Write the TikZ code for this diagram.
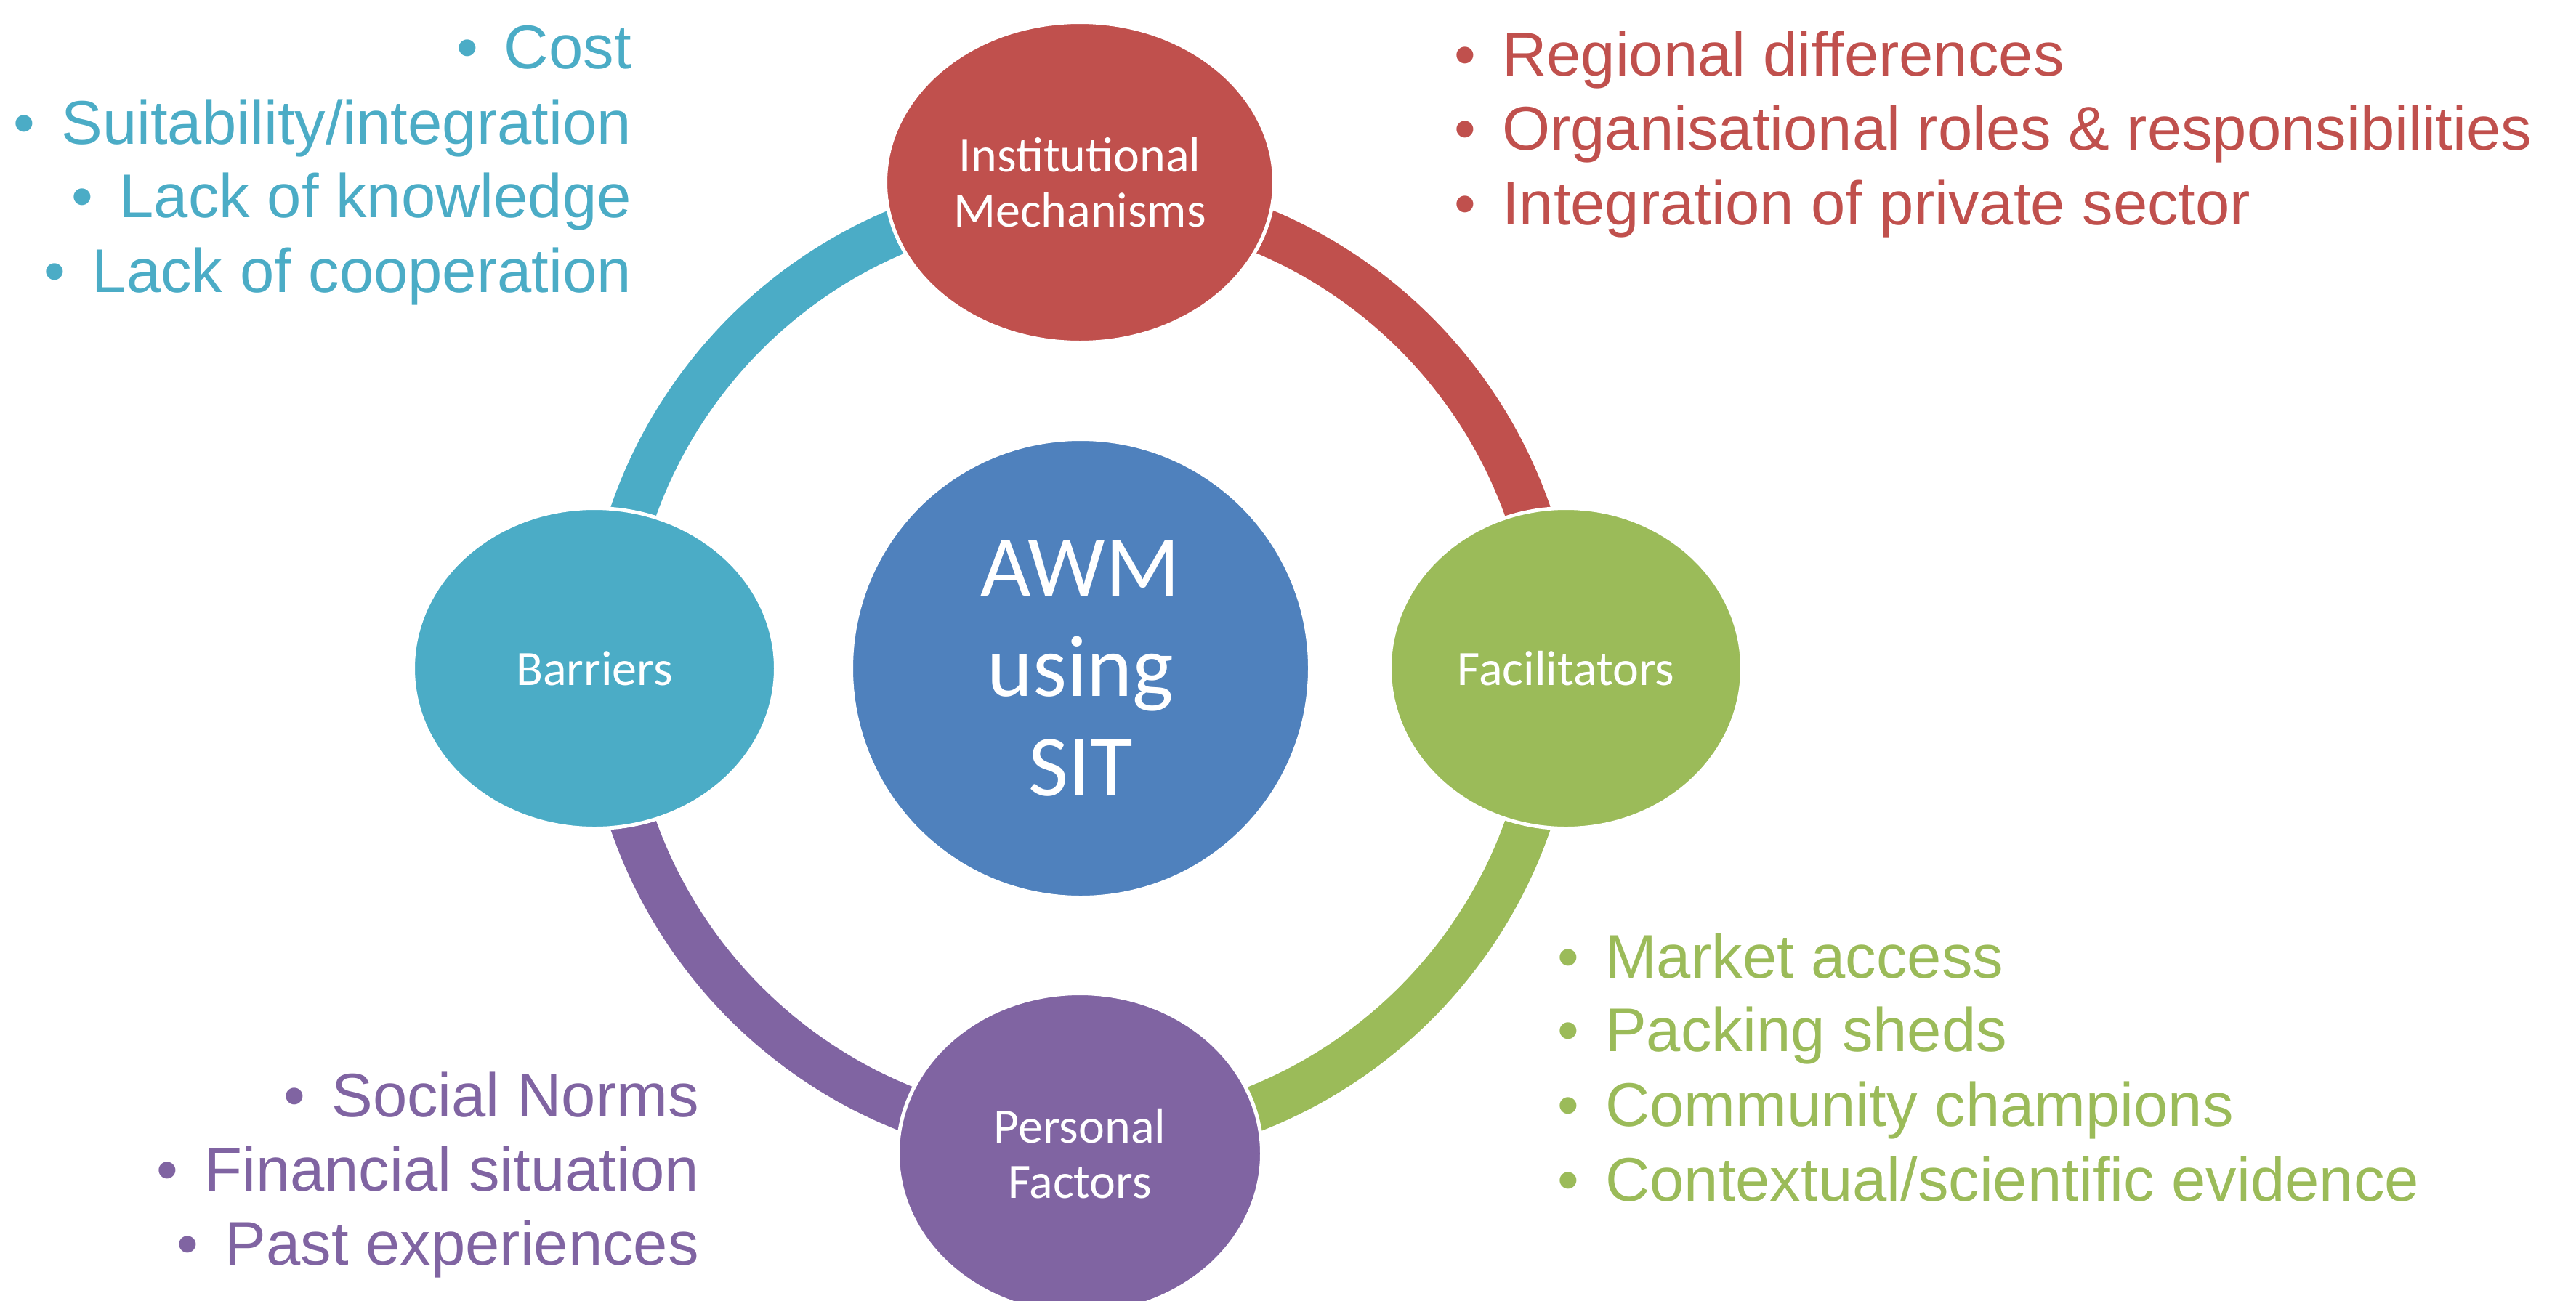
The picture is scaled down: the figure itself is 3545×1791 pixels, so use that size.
\documentclass[tikz,border=0pt]{standalone}
\usepackage{fontspec}
\setmainfont{Liberation Sans}
\newfontfamily\calibrifont{Carlito}
\usetikzlibrary{shapes.geometric}
\definecolor{cCyan}{HTML}{4BACC6}
\definecolor{cRed}{HTML}{C0504D}
\definecolor{cGreen}{HTML}{9BBB59}
\definecolor{cPurple}{HTML}{8064A2}
\definecolor{cBlue}{HTML}{4F81BD}
\newcommand\bulletbox{\makebox[66pt][l]{\textbullet}}
\begin{document}
\begin{tikzpicture}[x=1pt,y=-1pt,
  ringarc/.style={line width=63pt},
  bubble/.style={ellipse, draw=white, line width=5pt, inner sep=0pt, text=white,
    align=center, font=\calibrifont\fontsize{68}{75.5}\selectfont},
  hubstyle/.style={circle, draw=white, line width=5pt, inner sep=0pt, text=white,
    align=center, font=\calibrifont\fontsize{120}{137.5}\selectfont},
  bl/.style={inner sep=0pt, anchor=base west, font=\fontsize{85}{103}\selectfont},
  br/.style={inner sep=0pt, anchor=base east, font=\fontsize{85}{103}\selectfont},
]
\useasboundingbox (0,0) rectangle (3545,1791);
\clip (0,0) rectangle (3545,1791);
\fill[white] (0,0) rectangle (3545,1791);

% ring
\coordinate (hub) at (1487,920);
\coordinate (rT) at (1487,268);
\coordinate (rR) at (2139,920);
\coordinate (rB) at (1487,1572);
\coordinate (rL) at (835,920);
\draw[ringarc, cRed] (rT) arc[start angle=-90, end angle=0, radius=652];
\draw[ringarc, cGreen] (rR) arc[start angle=0, end angle=90, radius=652];
\draw[ringarc, cPurple] (rB) arc[start angle=90, end angle=180, radius=652];
\draw[ringarc, cCyan] (rL) arc[start angle=180, end angle=270, radius=652];

% bubbles
\node[bubble, fill=cRed, minimum width=535pt, minimum height=441pt] (inst) at (1486,251) {Institutional\\Mechanisms};
\node[bubble, fill=cGreen, minimum width=485pt, minimum height=441pt] (facil) at (2155,920) {Facilitators};
\node[bubble, fill=cPurple, minimum width=501pt, minimum height=441pt] (pers) at (1486,1588) {Personal\\Factors};
\node[bubble, fill=cCyan, minimum width=499pt, minimum height=441pt] (barr) at (818,920) {Barriers};
\node[hubstyle, fill=cBlue, minimum size=631pt] (awm) at (hub) {AWM\\using\\SIT};

% barriers list
\node[br, text=cCyan] (b1) at (869,94) {\bulletbox Cost};
\node[br, text=cCyan] (b2) at (869,198) {\bulletbox Suitability/integration};
\node[br, text=cCyan] (b3) at (869,299) {\bulletbox Lack of knowledge};
\node[br, text=cCyan] (b4) at (869,402) {\bulletbox Lack of cooperation};

% institutional list
\node[bl, text=cRed] (i1) at (2001,104) {\bulletbox Regional differences};
\node[bl, text=cRed] (i2) at (2001,206) {\bulletbox Organisational roles \& responsibilities};
\node[bl, text=cRed] (i3) at (2001,309) {\bulletbox Integration of private sector};

% facilitators list
\node[bl, text=cGreen] (f1) at (2143,1346) {\bulletbox Market access};
\node[bl, text=cGreen] (f2) at (2143,1447) {\bulletbox Packing sheds};
\node[bl, text=cGreen] (f3) at (2143,1550) {\bulletbox Community champions};
\node[bl, text=cGreen] (f4) at (2143,1653) {\bulletbox Contextual/scientific evidence};

% personal list
\node[br, text=cPurple] (p1) at (962,1537) {\bulletbox Social Norms};
\node[br, text=cPurple] (p2) at (962,1639) {\bulletbox Financial situation};
\node[br, text=cPurple] (p3) at (962,1741) {\bulletbox Past experiences};
\end{tikzpicture}
\end{document}
